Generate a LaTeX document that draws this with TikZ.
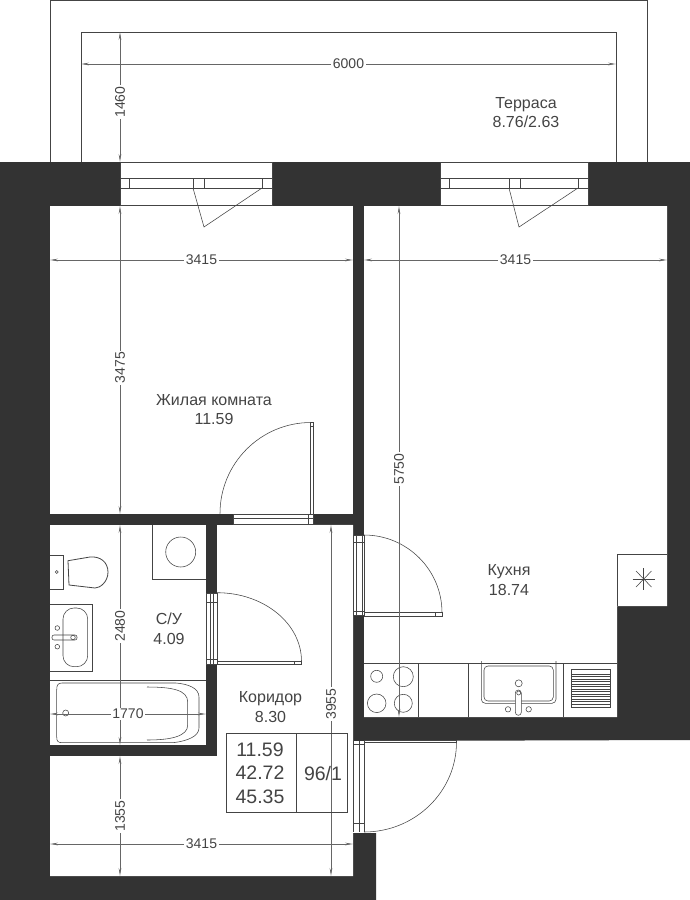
\documentclass[tikz,border=0pt]{standalone}
\usepackage{fontspec}
\setmainfont{Liberation Sans}
\usetikzlibrary{arrows.meta}
\definecolor{wallgray}{HTML}{333333}
\definecolor{inkgray}{HTML}{444444}
\tikzset{
    wallfill/.style={fill=wallgray, draw=none},
    roomfill/.style={fill=white, draw=none},
    planline/.style={draw=inkgray, line width=0.55pt},
    dimline/.style={draw=black!60, line width=0.7pt, {Stealth[length=8pt,width=2.6pt]}-{Stealth[length=8pt,width=2.6pt]}},
    dimtext/.style={fill=white, inner sep=1.5pt, text=inkgray, font=\fontsize{14}{16}\selectfont},
    roomtext/.style={text=inkgray, align=center, font=\fontsize{16}{19.5}\selectfont},
    tabletext/.style={text=inkgray, align=center, font=\fontsize{19.5}{23.5}\selectfont}
}
\begin{document}
\begin{tikzpicture}[x=1pt,y=-1pt]
    \useasboundingbox (0,0) rectangle (690,900);

    % Terrace outline
    \draw[planline] (50,162) -- (50,0.4) -- (647,0.4) -- (647,162);
    \draw[planline] (81,162) -- (81,32) -- (616,32) -- (616,162);

    % Walls
    \fill[wallfill] (0,162) -- (690,162) -- (690,740) -- (353,741) -- (353,833) -- (376,833) -- (376,900) -- (0,900) -- cycle;

    % Rooms
    \fill[roomfill] (50,206) rectangle (353,514);
    \fill[roomfill] (364,206) -- (667,206) -- (667,606) -- (617,606) -- (617,717) -- (364,717) -- cycle;
    \fill[roomfill] (50,525) rectangle (206,745);
    \fill[roomfill] (217,525) -- (353,525) -- (353,876) -- (50,876) -- (50,756) -- (217,756) -- cycle;

    % Windows
    \foreach \wx/\wy/\wa/\wb/\wc/\wd/\we/\wf in {120/272/129/193/204/262/204/262, 440/588/449/509/520/578/519/578} {
        \fill[roomfill] (\wx,162) rectangle (\wy,206);
        \draw[planline] (\wx,162.5) -- (\wy,162.5);
        \draw[planline] (\wx,178) -- (\wy,178);
        \draw[planline] (\wx,188) -- (\wy,188);
        \draw[planline] (\wx,205.5) -- (\wy,205.5);
        \draw[planline] (\wx,162) -- (\wx,206);
        \draw[planline] (\wy,162) -- (\wy,206);
        \draw[planline] (\wa,178) -- (\wa,188);
        \draw[planline] (\wb,178) -- (\wb,188);
        \draw[planline] (\wc,178) -- (\wc,188);
        \draw[planline] (\wd,178) -- (\wd,188);
        \draw[planline] (\wb,188) -- (\we,227) -- (\wf,188);
    }

    % Door to the living room
    \fill[roomfill] (233,514) rectangle (313,525);
    \draw[planline] (233,514.5) -- (313,514.5);
    \draw[planline] (233,518) -- (313,518);
    \draw[planline] (233,524.5) -- (353,524.5);
    \draw[planline] (233,514) -- (233,525);
    \draw[planline] (308,514) -- (308,525);
    \draw[planline] (313,514) -- (313,525);
    \draw[planline] (310.5,422.5) rectangle (313,514);
    \draw[planline] (310.5,426) -- (313,426);
    \draw[planline] (311,422.5) arc[start angle=90, end angle=180, radius=91pt];

    % Door to the bathroom
    \fill[roomfill] (206,592.5) rectangle (217,664.5);
    \draw[planline] (206,593) -- (217,593);
    \draw[planline] (206,602.5) -- (217,602.5);
    \draw[planline] (206,659) -- (217,659);
    \draw[planline] (206,664.5) -- (217,664.5);
    \draw[planline] (206.5,592.5) -- (206.5,664.5);
    \draw[planline] (210,592.5) -- (210,664.5);
    \draw[planline] (213,592.5) -- (213,664.5);
    \draw[planline] (217,592.5) -- (217,664.5);
    \draw[planline] (217,661) rectangle (301.5,664);
    \draw[planline] (294,661) -- (294,664);
    \draw[planline] (217,592.7) arc[start angle=90, end angle=0, x radius=84.5pt, y radius=68.5pt];

    % Door to the kitchen
    \fill[roomfill] (353,535) rectangle (364,616);
    \draw[planline] (353,535.5) -- (364,535.5);
    \draw[planline] (353,542.5) -- (364,542.5);
    \draw[planline] (353,611) -- (364,611);
    \draw[planline] (353,615.5) -- (364,615.5);
    \draw[planline] (353.5,535) -- (353.5,616);
    \draw[planline] (356,535) -- (356,616);
    \draw[planline] (362,535) -- (362,616);
    \draw[planline] (364,535) -- (364,616);
    \draw[planline] (364,612.7) rectangle (442,616);
    \draw[planline] (435,612.7) -- (435,616);
    \draw[planline] (364,535) arc[start angle=90, end angle=0, x radius=78pt, y radius=77.7pt];

    % Entrance door
    \fill[roomfill] (353,741) rectangle (364,833);
    \draw[planline] (353,744) -- (364,744);
    \draw[planline] (353,823) -- (364,823);
    \draw[planline] (353.5,741) -- (353.5,832);
    \draw[planline] (359,741) -- (359,832);
    \draw[planline] (364,741) -- (364,832);
    \draw[planline] (364,740.7) rectangle (456.5,742.5);
    \draw[planline] (456.5,742) arc[start angle=0, end angle=-90, x radius=92.5pt, y radius=90pt];

    % Washing machine
    \draw[planline] (152,525) -- (152,579) -- (206,579);
    \draw[planline] (180.7,552) circle[radius=15pt];

    % Toilet
    \draw[planline] (50,555.7) -- (63,555.7) -- (63,589) -- (50,589);
    \draw[planline] (56.7,572) circle[radius=1.5pt];
    \draw[draw=inkgray, line width=0.8pt] (68,560.7) -- (90,557) .. controls (100,556) and (108,562) .. (108,572) .. controls (108,582) and (100,588) .. (95,588) -- (69,585) -- cycle;

    % Washbasin
    \draw[planline] (50,604) -- (92,604) -- (92,671) -- (50,671);
    \draw[planline, rounded corners=11pt] (63,608) rectangle (87.7,666.7);
    \draw[planline, rounded corners=2pt] (52,635) rectangle (77,640);
    \draw[planline] (57.3,628) circle[radius=2.3pt];
    \draw[planline] (57.3,646.7) circle[radius=2.3pt];
    \draw[planline] (73,637.5) circle[radius=2.3pt];

    % Bath
    \draw[planline] (50,680) -- (206,680);
    \draw[planline] (56.7,690) .. controls (56.7,685) and (58,683) .. (62,683) -- (176,683) .. controls (188,684) and (199,688) .. (199,697) -- (199,728) .. controls (199,736) and (188,741) .. (173,742.7) -- (62,742.7) .. controls (58,742.7) and (56.7,741) .. (56.7,737) -- cycle;
    \draw[planline] (147,687) .. controls (172,687) and (187.7,690) .. (187.7,702) -- (187.7,725) .. controls (187.7,736) and (172,740) .. (147,740);
    \draw[planline] (65.7,713) circle[radius=3pt];

    % Kitchen units
    \draw[planline] (364,663.3) -- (617,663.3);
    \draw[planline] (418,663.3) -- (418,717);
    \draw[planline] (468.7,663.3) -- (468.7,717);
    \draw[planline] (563.3,663.3) -- (563.3,717);

    % Hob
    \draw[planline] (376.7,676.3) circle[radius=6pt];
    \draw[planline] (403.3,676.7) circle[radius=10pt];
    \draw[planline] (376.7,703.3) circle[radius=9.3pt];
    \draw[planline] (403.3,703.3) circle[radius=9pt];

    % Sink
    \draw[planline, rounded corners=4pt] (481.3,661) -- (481.3,703.3) -- (556,703.3) -- (556,661);
    \draw[planline, rounded corners=4pt] (484,666) rectangle (553.3,701);
    \draw[planline] (518.7,683.3) circle[radius=3.5pt];
    \draw[planline, rounded corners=3pt, fill=white] (515.3,690) rectangle (521.3,715.3);
    \draw[planline] (518.7,693) circle[radius=2pt];
    \draw[planline] (508,709.3) circle[radius=2.7pt];
    \draw[planline] (528.7,709.3) circle[radius=2.7pt];

    % Drainer
    \draw[planline] (571.7,669.3) rectangle (610.7,707.7);
    \foreach \gy in {674,676.5,...,704} {
        \draw[planline] (571.7,\gy) -- (610.7,\gy);
    }

    % Vent shaft
    \fill[roomfill] (617,554) rectangle (667,606);
    \draw[planline] (617,606) -- (617,554) -- (667,554);
    \draw[planline] (632.5,579) -- (655,579);
    \draw[planline] (643.7,568) -- (643.7,590);
    \draw[planline] (636,571) -- (651.5,587);
    \draw[planline] (636,587) -- (651.5,571);

    % Dimensions
    \draw[dimline] (81,64) -- (616,64) node[dimtext, pos=0.5] (dimTerraceW) {6000};
    \draw[dimline] (120,32) -- (120,162) node[dimtext, rotate=90, pos=0.54] (dimTerraceH) {1460};
    \draw[dimline] (120,206) -- (120,514) node[dimtext, rotate=90, pos=0.525] (dimLivingH) {3475};
    \draw[dimline] (50,260) -- (353,260) node[dimtext, pos=0.5] (dimLivingW) {3415};
    \draw[dimline] (364,260) -- (667,260) node[dimtext, pos=0.5] (dimKitchenW) {3415};
    \draw[dimline] (399,206) -- (399,717) node[dimtext, rotate=90, pos=0.515] (dimKitchenH) {5750};
    \draw[dimline] (120,525) -- (120,745) node[dimtext, rotate=90, pos=0.46] (dimBathH) {2480};
    \draw[dimline] (50,714) -- (206,714) node[dimtext, pos=0.5] (dimBathW) {1770};
    \draw[dimline] (120,756) -- (120,876) node[dimtext, rotate=90, pos=0.5] (dimHallH) {1355};
    \draw[dimline] (50,844) -- (353,844) node[dimtext, pos=0.5] (dimHallW) {3415};
    \draw[dimline] (331,525) -- (331,876) node[dimtext, rotate=90, pos=0.51] (dimCorridorH) {3955};

    % Room labels
    \node[roomtext] (lblTerrace) at (526,112.5) {Терраса\\8.76/2.63};
    \node[roomtext] (lblLiving) at (214,409.5) {Жилая комната\\11.59};
    \node[roomtext] (lblKitchen) at (509,580) {Кухня\\18.74};
    \node[roomtext] (lblBath) at (169,629) {С/У\\4.09};
    \node[roomtext] (lblCorridor) at (270.5,707) {Коридор\\8.30};

    % Area table
    \draw[planline] (226.7,733.3) rectangle (347.7,812.7);
    \draw[planline] (296,733.3) -- (296,812.7);
    \node[tabletext] (lblAreas) at (260,773) {11.59\\42.72\\45.35};
    \node[tabletext] (lblFlat) at (323,774) {96/1};
\end{tikzpicture}
\end{document}
